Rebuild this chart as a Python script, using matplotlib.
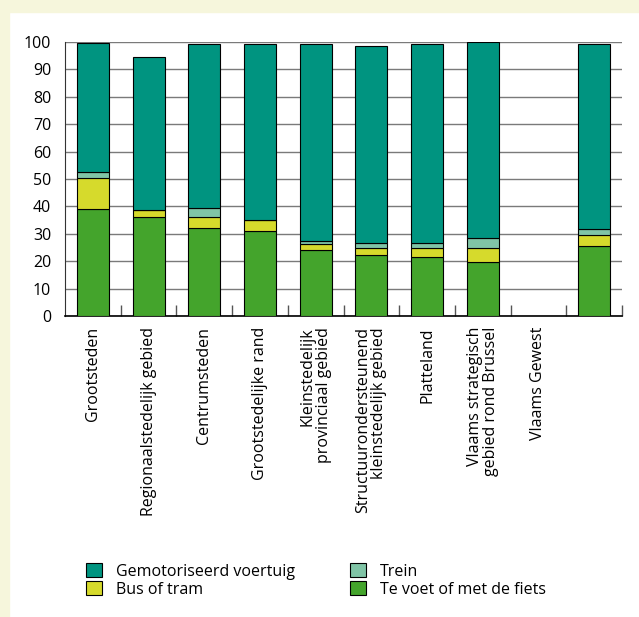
import matplotlib
matplotlib.use("Agg")
import matplotlib.pyplot as plt
import numpy as np

plt.rcParams["font.family"] = ["Open Sans", "DejaVu Sans"]

# slot labels; the bar for "Vlaams Gewest" sits one slot to the right in the original
labels = ["Grootsteden", "Regionaalstedelijk gebied", "Centrumsteden",
          "Grootstedelijke rand", "Kleinstedelijk\nprovinciaal gebied",
          "Structuurondersteunend\nkleinstedelijk gebied", "Platteland",
          "Vlaams strategisch\ngebied rond Brussel", "Vlaams Gewest", ""]

walk = [39.0, 36.0, 32.2, 30.9, 24.1, 22.1, 21.6, 19.6, np.nan, 25.5]
bus = [11.5, 2.7, 3.8, 4.0, 2.0, 2.7, 3.2, 5.3, np.nan, 3.9]
train = [2.2, 0.0, 3.3, 0.0, 1.2, 1.7, 1.7, 3.4, np.nan, 2.4]
car = [47.0, 55.7, 60.1, 64.3, 71.9, 71.9, 72.7, 71.7, np.nan, 67.4]

series = [
    ("Te voet of met de fiets", walk, "#44a42c"),
    ("Bus of tram", bus, "#d6da2c"),
    ("Trein", train, "#80c4a6"),
    ("Gemotoriseerd voertuig", car, "#009480"),
]

fig = plt.figure(figsize=(6.39, 6.17), dpi=100, facecolor="white")
fig.patches.append(plt.Rectangle((0, 0), 9 / 639, 1, transform=fig.transFigure,
                                 color="#f6f6dc", zorder=0))
fig.patches.append(plt.Rectangle((0, 1 - 12 / 617), 1, 12 / 617, transform=fig.transFigure,
                                 color="#f6f6dc", zorder=0))

ax = fig.add_axes([65 / 639, 1 - 316 / 617, 557 / 639, 274 / 617])
x = np.arange(len(labels))
bottom = np.zeros(len(labels))
handles = {}
for name, vals, col in series:
    vals = np.array(vals, dtype=float)
    ok = ~np.isnan(vals)
    b = ax.bar(x[ok], vals[ok], 0.575, bottom=bottom[ok], color=col, edgecolor="black",
               linewidth=0.8, zorder=3)
    handles[name] = b
    bottom[ok] += vals[ok]

ax.set_xlim(-0.5, len(labels) - 0.5)
ax.set_ylim(0, 100)
ax.set_yticks(range(0, 101, 10))
ax.yaxis.grid(True, color="#7a7a7a", linewidth=1, zorder=0)
ax.tick_params(axis="y", length=0, labelsize=11.5, pad=10)
ax.set_xticks(x)
ax.set_xticklabels(labels, rotation=90, fontsize=11.5, va="top", ha="center",
                   multialignment="right", linespacing=1.0)
ax.tick_params(axis="x", length=0, pad=8)
ax.set_xticks(np.arange(0.5, len(labels), 1), minor=True)
ax.tick_params(axis="x", which="minor", direction="in", length=8, width=1, color="#555555")
for s in ["top", "right"]:
    ax.spines[s].set_visible(False)
ax.spines["left"].set_color("#333333")
ax.spines["bottom"].set_color("black")
ax.spines["bottom"].set_linewidth(1.2)

order = ["Gemotoriseerd voertuig", "Bus of tram", "Trein", "Te voet of met de fiets"]
fig.legend([handles[k] for k in order], order, ncol=2, loc="upper left",
           bbox_to_anchor=(78 / 639, 1 - 555 / 617), frameon=False, fontsize=11.5,
           handlelength=1.0, handleheight=1.0, handletextpad=0.9,
           columnspacing=3.4, labelspacing=0.1, borderpad=0)

fig.savefig("out.png", dpi=100, facecolor=fig.get_facecolor())
